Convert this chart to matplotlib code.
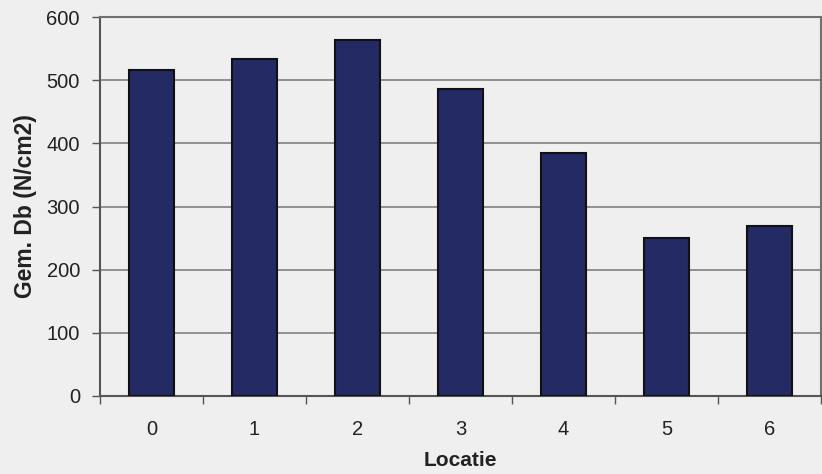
import numpy as np
import matplotlib.pyplot as plt

plt.rcParams['font.family'] = ['Liberation Sans', 'DejaVu Sans']

# Gegevens
locaties = ['0', '1', '2', '3', '4', '5', '6']
gem_db = [516, 533, 563, 486, 385, 250, 269]

bg = '#efefef'
fig = plt.figure(figsize=(8.22, 4.74), dpi=100, facecolor=bg)
ax = fig.add_axes([0.1217, 0.1646, 0.8771, 0.7994])
ax.set_facecolor(bg)

x = np.arange(len(locaties))
ax.bar(x, gem_db, width=0.44, color='#232a64', edgecolor='#111111', linewidth=1.5, zorder=3)

ax.set_xlim(-0.5, len(locaties) - 0.5)
ax.set_ylim(0, 600)
ax.set_yticks(range(0, 601, 100))
ax.set_xticks(x)
ax.set_xticklabels(locaties)
ax.set_xticks(np.arange(-0.5, len(locaties), 1), minor=True)
ax.tick_params(axis='x', which='major', length=0, pad=17, labelsize=14.5, colors='#222222')
ax.tick_params(axis='x', which='minor', length=6, width=1, color='#555555')
ax.tick_params(axis='y', length=6, width=1, color='#555555', pad=8.5, labelsize=14.5, labelcolor='#222222')

ax.grid(axis='y', color='#808080', linewidth=1.2, zorder=0)
for s in ax.spines.values():
    s.set_color('#707070')
    s.set_linewidth(1.5)
ax.spines['bottom'].set_color('#555555')
ax.spines['left'].set_color('#555555')

ax.set_xlabel('Locatie', fontsize=15, fontweight='bold', labelpad=9, color='#222222')
ax.set_ylabel('Gem. Db (N/cm2)', fontsize=16.5, fontweight='bold', labelpad=7, color='#222222')

plt.savefig('out.png', dpi=100, facecolor=bg)
